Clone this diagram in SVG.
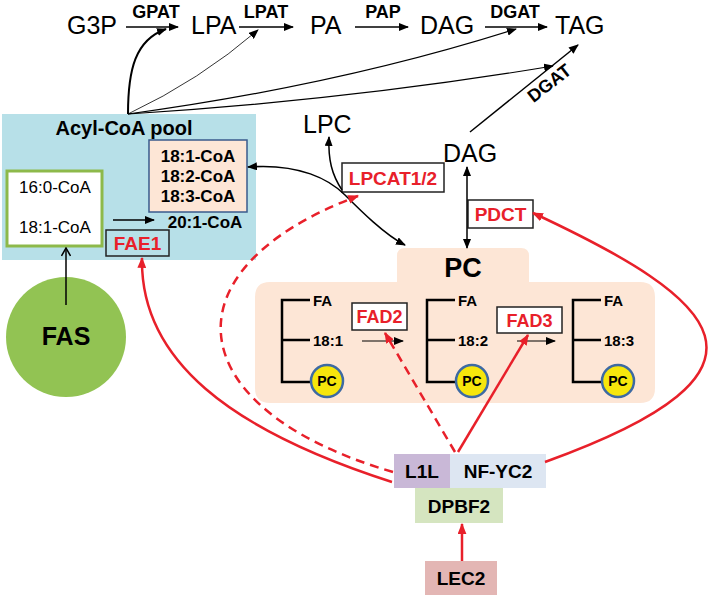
<svg xmlns="http://www.w3.org/2000/svg" width="709" height="597" viewBox="0 0 709 597">
<defs>
<style>
text{font-family:"Liberation Sans",Arial,sans-serif;fill:#000}
.big{font-size:25px}
.enz{font-size:18px;font-weight:bold}
.red{fill:#e8202a;font-weight:bold;font-size:19px}
.b17{font-size:17px;font-weight:bold}
.n17{font-size:17px}
.fa{font-size:15px;font-weight:bold}
.tf{font-size:19px;font-weight:bold}
.bl{stroke:#000;fill:none;stroke-width:1.5}
.rd{stroke:#e8202a;fill:none;stroke-width:2.5}
.dash{stroke-dasharray:9,6}
.box{fill:#fff;stroke:#222;stroke-width:1.5}
.pcl{stroke:#000;stroke-width:2.5;fill:none}
.pcc{fill:#f7e60c;stroke:#3d6aa3;stroke-width:2.5}
</style>
<marker id="ah" viewBox="0 0 10 8" refX="9" refY="4" markerWidth="10" markerHeight="8" markerUnits="userSpaceOnUse" orient="auto-start-reverse"><path d="M0,0 L10,4 L0,8 z" fill="#000"/></marker>
<marker id="ahr" viewBox="0 0 10 8" refX="9" refY="4" markerWidth="11" markerHeight="9" markerUnits="userSpaceOnUse" orient="auto"><path d="M0,0 L10,4 L0,8 z" fill="#e8202a"/></marker>
<marker id="aho" viewBox="0 0 10 10" refX="9" refY="5" markerWidth="10" markerHeight="10" markerUnits="userSpaceOnUse" orient="auto"><path d="M1,0.5 L9,5 L1,9.5" fill="none" stroke="#000" stroke-width="1.5"/></marker>
</defs>

<g id="pool">
<rect x="2" y="114" width="254" height="146" fill="#b7e0e8"/>
<text x="124" y="135" text-anchor="middle" style="font-size:20px;font-weight:bold">Acyl-CoA pool</text>
<rect x="7" y="171" width="95" height="75" fill="#fff" stroke="#8db94a" stroke-width="3"/>
<text x="55" y="193" text-anchor="middle" class="n17">16:0-CoA</text>
<text x="55" y="233" text-anchor="middle" class="n17">18:1-CoA</text>
<rect x="149" y="140" width="98" height="72" fill="#fde6d6" stroke="#3a5a8c" stroke-width="1.5"/>
<text x="198" y="162" text-anchor="middle" class="b17">18:1-CoA</text>
<text x="198" y="182" text-anchor="middle" class="b17">18:2-CoA</text>
<text x="198" y="202" text-anchor="middle" class="b17">18:3-CoA</text>
<text x="205" y="228" text-anchor="middle" class="b17">20:1-CoA</text>
</g>
<g id="fae1"><rect x="106" y="230" width="63" height="26" class="box" fill="none" style="fill:none"/><text x="137.5" y="250" text-anchor="middle" class="red">FAE1</text></g>
<g id="fas"><circle cx="66" cy="337" r="60" fill="#92c353"/><text x="66" y="345" text-anchor="middle" style="font-size:25px;font-weight:bold">FAS</text></g>

<g id="g3p"><text x="67" y="34" class="big">G3P</text></g>
<g id="lpa"><text x="191" y="34" class="big">LPA</text></g>
<g id="pa"><text x="310" y="34" class="big">PA</text></g>
<g id="dag1"><text x="420" y="34" class="big">DAG</text></g>
<g id="tag"><text x="555" y="34" class="big">TAG</text></g>
<g id="lpc"><text x="303" y="133" class="big">LPC</text></g>
<g id="dag2"><text x="443" y="162" class="big">DAG</text></g>

<g id="lpcat"><rect x="342" y="163" width="102" height="29" class="box"/><text x="393" y="185" text-anchor="middle" class="red">LPCAT1/2</text></g>
<g id="pdct"><rect x="468" y="200" width="65" height="28" class="box"/><text x="500.5" y="221" text-anchor="middle" class="red">PDCT</text></g>

<g id="pc">
<path d="M405,248 H521 Q529,248 529,256 V282 H640 Q655,282 655,297 V388 Q655,403 640,403 H270 Q255,403 255,388 V297 Q255,282 270,282 H397 V256 Q397,248 405,248 Z" fill="#fde6d6"/>
<text x="463" y="277" text-anchor="middle" style="font-size:27px;font-weight:bold">PC</text>
<g>
<path class="pcl" d="M310,300 H282 V382 H312 M282,340 H310"/>
<text x="313" y="306" class="fa">FA</text><text x="313" y="346" class="fa">18:1</text>
<circle cx="327" cy="381" r="16" class="pcc"/><text x="327" y="386" text-anchor="middle" class="fa" style="font-size:14px">PC</text>
</g>
<g>
<path class="pcl" d="M455,300 H427 V382 H457 M427,340 H455"/>
<text x="458" y="306" class="fa">FA</text><text x="458" y="346" class="fa">18:2</text>
<circle cx="472" cy="381" r="16" class="pcc"/><text x="472" y="386" text-anchor="middle" class="fa" style="font-size:14px">PC</text>
</g>
<g>
<path class="pcl" d="M601,300 H573 V382 H603 M573,340 H601"/>
<text x="604" y="306" class="fa">FA</text><text x="604" y="346" class="fa">18:3</text>
<circle cx="618" cy="381" r="16" class="pcc"/><text x="618" y="386" text-anchor="middle" class="fa" style="font-size:14px">PC</text>
</g>
</g>
<g id="fad2"><rect x="352" y="303" width="55" height="27" class="box"/><text x="379.5" y="323" text-anchor="middle" class="red" style="font-size:18px">FAD2</text></g>
<g id="fad3"><rect x="497" y="307" width="65" height="26" class="box"/><text x="529.5" y="327" text-anchor="middle" class="red" style="font-size:18px">FAD3</text></g>

<g id="l1l"><rect x="394" y="454" width="56" height="34" fill="#c9b8d7"/><text x="422" y="478" text-anchor="middle" class="tf">L1L</text></g>
<g id="nfyc2"><rect x="450" y="454" width="96" height="34" fill="#dde6f2"/><text x="498" y="478" text-anchor="middle" class="tf">NF-YC2</text></g>
<g id="dpbf2"><rect x="415" y="488" width="88" height="35" fill="#d5e5c0"/><text x="459" y="513" text-anchor="middle" class="tf">DPBF2</text></g>
<g id="lec2"><rect x="425" y="561" width="72" height="34" fill="#e3b6b4"/><text x="461" y="585" text-anchor="middle" class="tf">LEC2</text></g>

<g id="connectors">
<line x1="126" y1="27" x2="178" y2="27" class="bl" marker-end="url(#ah)"/>
<text x="156" y="18" text-anchor="middle" class="enz">GPAT</text>
<line x1="239" y1="27" x2="293" y2="27" class="bl" marker-end="url(#ah)"/>
<text x="266" y="18" text-anchor="middle" class="enz">LPAT</text>
<line x1="355" y1="27" x2="408" y2="27" class="bl" marker-end="url(#ah)"/>
<text x="383" y="18" text-anchor="middle" class="enz">PAP</text>
<line x1="485" y1="27" x2="547" y2="27" class="bl" marker-end="url(#ah)"/>
<text x="515" y="18" text-anchor="middle" class="enz">DGAT</text>

<path d="M128,114 C128,70 135,40 166,29" class="bl" style="stroke-width:2" marker-end="url(#ah)"/>
<path d="M128,114 Q200,80 258,30" class="bl" style="stroke-width:0.8" marker-end="url(#ah)"/>
<path d="M128,114 Q340,85 516,29" class="bl" style="stroke-width:1.2" marker-end="url(#ah)"/>
<path d="M128,114 Q350,100 553,66" class="bl" style="stroke-width:1.2" marker-end="url(#ah)"/>

<line x1="470" y1="132" x2="578" y2="45" class="bl" marker-end="url(#ah)"/>
<text x="0" y="0" text-anchor="middle" class="enz" transform="translate(553,88) rotate(-38)">DGAT</text>

<path d="M248,167 C300,163 330,180 345,195 S385,235 405,245" class="bl" marker-start="url(#ah)" marker-end="url(#ah)"/>
<path d="M342,190 C332,175 328,160 329,137" class="bl" marker-end="url(#ah)"/>
<line x1="467" y1="167" x2="467" y2="248" class="bl" marker-start="url(#ah)" marker-end="url(#ah)"/>

<line x1="113" y1="220" x2="154" y2="220" class="bl" marker-end="url(#ah)"/>
<line x1="66" y1="305" x2="66" y2="248" class="bl" marker-end="url(#aho)"/>
<line x1="362" y1="341" x2="403" y2="341" class="bl" style="stroke-width:1" marker-end="url(#ah)"/>
<line x1="517" y1="341" x2="555" y2="341" class="bl" style="stroke-width:1" marker-end="url(#ah)"/>

<path d="M393,472 C180,410 160,270 358,196" class="rd dash" marker-end="url(#ahr)"/>
<path d="M392,482 C230,430 140,360 142,258" class="rd" marker-end="url(#ahr)"/>
<line x1="455" y1="452" x2="385" y2="333" class="rd dash" marker-end="url(#ahr)"/>
<line x1="458" y1="452" x2="528" y2="335" class="rd" marker-end="url(#ahr)"/>
<path d="M545,462 C800,370 720,300 533,213" class="rd" marker-end="url(#ahr)"/>
<line x1="462" y1="561" x2="462" y2="524" class="rd" marker-end="url(#ahr)"/>
</g>
</svg>
